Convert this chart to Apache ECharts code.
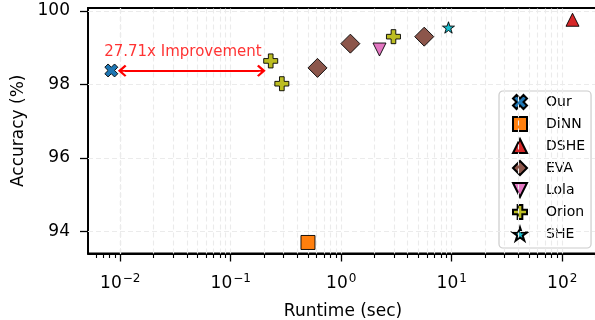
<!DOCTYPE html>
<html>
<head>
<meta charset="utf-8">
<script src="https://cdn.jsdelivr.net/npm/echarts@6/dist/echarts.min.js"></script>
<style>
html,body{margin:0;padding:0;background:#fff;}
#chart{width:595px;height:320px;}
</style>
</head>
<body>
<div id="chart"></div>
<script>
// ---- data ----
const methods = ['Our', 'DiNN', 'DSHE', 'EVA', 'Lola', 'Orion', 'SHE'];
const ourPts   = [[0.0083, 98.38]];
const dinnPts  = [[0.50, 93.70]];
const dshePts  = [[124, 99.76]];
const evaPts   = [[0.61, 98.45], [1.21, 99.11], [5.64, 99.30]];
const lolaPts  = [[2.22, 98.95]];
const orionPts = [[0.23, 98.64], [0.29, 98.02], [2.97, 99.30]];
const shePts   = [[9.35, 99.55]];

const xMajorTicks = [0.01, 0.1, 1, 10, 100];
const xMinorTicks = [0.006, 0.007, 0.008, 0.009,
  0.02, 0.03, 0.04, 0.05, 0.06, 0.07, 0.08, 0.09,
  0.2, 0.3, 0.4, 0.5, 0.6, 0.7, 0.8, 0.9,
  2, 3, 4, 5, 6, 7, 8, 9,
  20, 30, 40, 50, 60, 70, 80, 90, 200];
const yTicks = [94, 96, 98, 100];
const xRange = [0.005105, 210.9];
const yRange = [93.40, 100.08];

const annotText = '27.71x Improvement';
const annotPos = [0.0369, 98.88];
const arrowFrom = [0.0110, 98.37];
const arrowTo = [0.179, 98.37];

// ---- styles ----
const FONT = 'DejaVu Sans';
const colors = ['#1f77b4', '#ff7f0e', '#d62728', '#8c564b', '#e377c2', '#bcbd22', '#17becf'];
const X_PATH = 'path://M212,0L283,71L212,141L283,212L212,283L141,212L71,283L0,212L71,141L0,71L71,0L141,71Z';
const PLUS_PATH = 'path://M100,0H200V100H300V200H200V300H100V200H0V100H100Z';
const STAR_PATH = 'path://M100,0L122.45,69.1L195.11,69.1L136.33,111.8L158.78,180.9L100,138.2L41.22,180.9L63.67,111.8L4.89,69.1L77.55,69.1Z';
const DOWN_TRI_PATH = 'path://M0,0L100,0L50,100Z';
const ARROW_PATH = 'path://M50,0L100,50L88,62L58,32L58,100L42,100L42,32L12,62L0,50Z';

const seriesDefs = [
  {name: 'Our',   data: ourPts,   symbol: X_PATH,    size: 13},
  {name: 'DiNN',  data: dinnPts,  symbol: 'rect',    size: 14},
  {name: 'DSHE',  data: dshePts,  symbol: 'triangle', size: 13},
  {name: 'EVA',   data: evaPts,   symbol: 'diamond', size: 19},
  {name: 'Lola',  data: lolaPts,  symbol: DOWN_TRI_PATH, size: 13},
  {name: 'Orion', data: orionPts, symbol: PLUS_PATH, size: 14},
  {name: 'SHE',   data: shePts,   symbol: STAR_PATH, size: 12}
];

const gridLineStyle = {color: '#ebebeb', width: 1.1, type: [5, 3]};
const gridLines = xMajorTicks.concat(xMinorTicks).map(v => ({xAxis: v}))
  .concat(yTicks.map(v => ({yAxis: v})));

function supLabel(v) {
  const e = Math.round(Math.log10(v));
  return '{b|10}{s|' + (e < 0 ? '\u2212' + (-e) : String(e)) + '}';
}

const series = [
  {
    name: '_grid', type: 'line', data: [], z: 0, silent: true,
    markLine: {
      silent: true, symbol: 'none', animation: false,
      label: {show: false},
      lineStyle: gridLineStyle,
      data: gridLines
    }
  }
].concat(seriesDefs.map((d, i) => ({
  name: d.name,
  type: 'scatter',
  data: d.data,
  symbol: d.symbol,
  symbolSize: d.size,
  symbolKeepAspect: true,
  z: 5,
  itemStyle: {color: colors[i], borderColor: '#000', borderWidth: 0.9, opacity: 1},
  emphasis: {disabled: true}
}))).concat([
  {
    name: '_annot', type: 'scatter', data: [annotPos], symbolSize: 0, z: 6, silent: true,
    label: {show: true, position: 'inside', formatter: annotText,
      color: '#ff0000', fontSize: 15, fontFamily: FONT},
    markLine: {
      silent: true, animation: false,
      symbol: [ARROW_PATH, ARROW_PATH], symbolSize: [12, 14],
      label: {show: false},
      lineStyle: {color: '#ff0000', width: 2, type: 'solid'},
      data: [[{coord: arrowFrom}, {coord: arrowTo}]]
    }
  }
]);

const chart = echarts.init(document.getElementById('chart'), null, {renderer: 'canvas'});
chart.setOption({
  animation: false,
  backgroundColor: '#fff',
  textStyle: {fontFamily: FONT},
  grid: {left: 88, top: 8, width: 510, height: 245.5, show: true,
    borderColor: '#000', borderWidth: 1.8, backgroundColor: 'transparent',
    containLabel: false, outerBoundsMode: 'none'},
  legend: {
    data: methods.map(n => ({name: n})),
    orient: 'vertical',
    left: 499, top: 91,
    padding: [3, 6, 6, 13],
    itemWidth: 14, itemHeight: 14, itemGap: 6,
    borderColor: '#cccccc', borderWidth: 1.2, borderRadius: 4,
    backgroundColor: 'rgba(255,255,255,0.85)',
    textStyle: {fontFamily: FONT, fontSize: 14, color: '#000', padding: [0, 0, 0, 14], lineHeight: 16},
    selectedMode: false
  },
  xAxis: [
    {
      type: 'log', logBase: 10, min: xRange[0], max: xRange[1],
      name: 'Runtime (sec)', nameLocation: 'middle', nameGap: 50,
      nameTextStyle: {fontFamily: FONT, fontSize: 17, color: '#000'},
      axisLine: {show: true, lineStyle: {color: '#000', width: 1.8}},
      axisTick: {show: true, inside: false, length: 8, lineStyle: {color: '#000', width: 1.3},
        customValues: xMajorTicks},
      axisLabel: {show: true, margin: 19, customValues: xMajorTicks, formatter: supLabel,
        rich: {
          b: {fontFamily: FONT, fontSize: 17, color: '#000', lineHeight: 20, verticalAlign: 'bottom'},
          s: {fontFamily: FONT, fontSize: 12, color: '#000', lineHeight: 12, verticalAlign: 'top', padding: [0, 0, 8, 1]}
        }},
      splitLine: {show: false}, minorTick: {show: false}
    },
    {
      type: 'log', logBase: 10, min: xRange[0], max: xRange[1], position: 'bottom',
      axisLine: {show: false},
      axisTick: {show: true, inside: false, length: 4.5, lineStyle: {color: '#000', width: 1.1},
        customValues: xMinorTicks},
      axisLabel: {show: false},
      splitLine: {show: false}
    }
  ],
  yAxis: {
    type: 'value', min: yRange[0], max: yRange[1],
    name: 'Accuracy (%)', nameLocation: 'middle', nameGap: 60,
    nameTextStyle: {fontFamily: FONT, fontSize: 17, color: '#000'},
    axisLine: {show: true, lineStyle: {color: '#000', width: 1.8}},
    axisTick: {show: true, inside: false, length: 8, lineStyle: {color: '#000', width: 1.3},
      customValues: yTicks},
    axisLabel: {show: true, margin: 18, customValues: yTicks, fontFamily: FONT, fontSize: 17, color: '#000'},
    splitLine: {show: false}
  },
  series: series
});
</script>
</body>
</html>
